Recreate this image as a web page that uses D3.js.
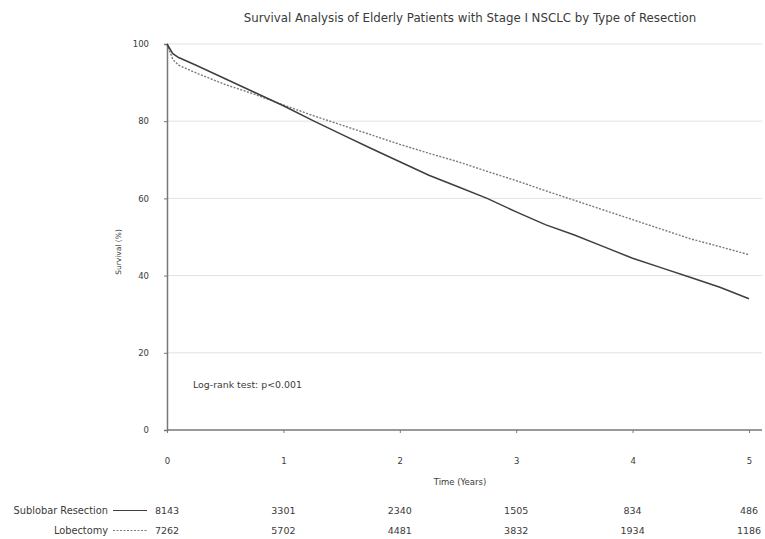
<!DOCTYPE html>
<html><head><meta charset="utf-8">
<script src="https://cdn.jsdelivr.net/npm/d3@7"></script>
<style>body{margin:0;background:#fff}svg{display:block}text{font-family:"DejaVu Sans",sans-serif;fill:#3a3a3a}</style>
</head><body><svg id="c" width="765" height="539"></svg>
<script>
const title = "Survival Analysis of Elderly Patients with Stage I NSCLC by Type of Resection";
const yTicks = [0, 20, 40, 60, 80, 100];
const xTicks = [0, 1, 2, 3, 4, 5];
const seriesNames = ["Sublobar Resection", "Lobectomy"];
const sublobarTime =     [0, 0.05, 0.1, 0.25, 0.5, 0.75, 1.0, 1.25, 1.5, 1.75, 2.0, 2.25, 2.5, 2.75, 3.0, 3.25, 3.5, 3.75, 4.0, 4.25, 4.5, 4.75, 5.0];
const sublobarSurvival = [100, 97.5, 96.5, 94.5, 91, 87.5, 84, 80.2, 76.6, 73, 69.5, 66, 63, 60, 56.5, 53.2, 50.5, 47.5, 44.5, 42, 39.5, 37, 34];
const lobectomyTime =     [0, 0.05, 0.1, 0.25, 0.5, 0.75, 1.0, 1.25, 1.5, 1.75, 2.0, 2.25, 2.5, 2.75, 3.0, 3.25, 3.5, 3.75, 4.0, 4.25, 4.5, 4.75, 5.0];
const lobectomySurvival = [100, 96, 94.5, 92.5, 89.5, 87, 84.2, 81.5, 79, 76.5, 74, 71.7, 69.5, 67, 64.6, 62, 59.5, 57, 54.5, 52, 49.5, 47.5, 45.4];
const sublobarAtRisk = ["8143", "3301", "2340", "1505", "834", "486"];
const lobectomyAtRisk = ["7262", "5702", "4481", "3832", "1934", "1186"];
const annotation = "Log-rank test: p<0.001";

const svg = d3.select("#c");
const x = d3.scaleLinear().domain([0, 5]).range([167, 749]);
const y = d3.scaleLinear().domain([0, 100]).range([430, 44]);

svg.append("text").attr("x", 470).attr("y", 22).attr("text-anchor", "middle")
  .attr("font-size", 11.8).text(title);

// grid
svg.append("g").selectAll("line").data(yTicks.filter(d => d > 0)).join("line")
  .attr("x1", x(0)).attr("x2", 762).attr("y1", d => y(d)).attr("y2", d => y(d))
  .attr("stroke", "#e2e2e2").attr("stroke-width", 1);

// y axis
const ya = svg.append("g").attr("transform", `translate(${x(0)},0)`)
  .call(d3.axisLeft(y).tickValues(yTicks).tickSize(3).tickPadding(15));
ya.select(".domain").attr("stroke", "#777").attr("stroke-width", 1.5);
ya.selectAll(".tick line").attr("stroke", "#777");
ya.selectAll("text").attr("font-size", 8.5).attr("fill", "#3a3a3a").attr("font-family", "DejaVu Sans");

// x axis
const xa = svg.append("g").attr("transform", `translate(0,${y(0)})`)
  .call(d3.axisBottom(x).tickValues(xTicks).tickFormat(d3.format("d")).tickSize(3).tickPadding(25));
xa.select(".domain").attr("stroke", "#777").attr("stroke-width", 1.5).attr("d", `M${x(0)},0H762`);
xa.selectAll(".tick line").attr("stroke", "#777");
xa.selectAll("text").attr("font-size", 8.5).attr("fill", "#3a3a3a").attr("font-family", "DejaVu Sans");

svg.append("text").attr("x", 460).attr("y", 485).attr("text-anchor", "middle")
  .attr("font-size", 8.5).text("Time (Years)");
svg.append("text").attr("transform", `translate(121,252) rotate(-90)`)
  .attr("text-anchor", "middle").attr("font-size", 7.5).text("Survival (%)");

const line = d3.line().x(d => x(d[0])).y(d => y(d[1]));
const lobData = lobectomyTime.map((t, i) => [t, lobectomySurvival[i]]);
const subData = sublobarTime.map((t, i) => [t, sublobarSurvival[i]]);
svg.append("path").datum(lobData).attr("d", line).attr("fill", "none")
  .attr("stroke", "#7a7a7a").attr("stroke-width", 1.4).attr("stroke-dasharray", "2,1.5");
svg.append("path").datum(subData).attr("d", line).attr("fill", "none")
  .attr("stroke", "#3e3e3e").attr("stroke-width", 1.5);

svg.append("text").attr("x", 193).attr("y", 388).attr("font-size", 9.4).text(annotation);

// at-risk table
const rows = [
  {name: seriesNames[0], vals: sublobarAtRisk, dash: null, yy: 514, col: "#3e3e3e"},
  {name: seriesNames[1], vals: lobectomyAtRisk, dash: "2,1.5", yy: 534, col: "#7a7a7a"}
];
rows.forEach(r => {
  svg.append("text").attr("x", 108).attr("y", r.yy).attr("text-anchor", "end")
    .attr("font-size", 9.8).text(r.name);
  svg.append("line").attr("x1", 113).attr("x2", 147).attr("y1", r.yy - 3.5).attr("y2", r.yy - 3.5)
    .attr("stroke", r.col).attr("stroke-width", 1).attr("stroke-dasharray", r.dash);
  svg.append("g").selectAll("text").data(r.vals).join("text")
    .attr("x", (d, i) => x(xTicks[i])).attr("y", r.yy)
    .attr("text-anchor", "middle").attr("font-size", 9.5).text(d => d);
});
</script></body></html>
